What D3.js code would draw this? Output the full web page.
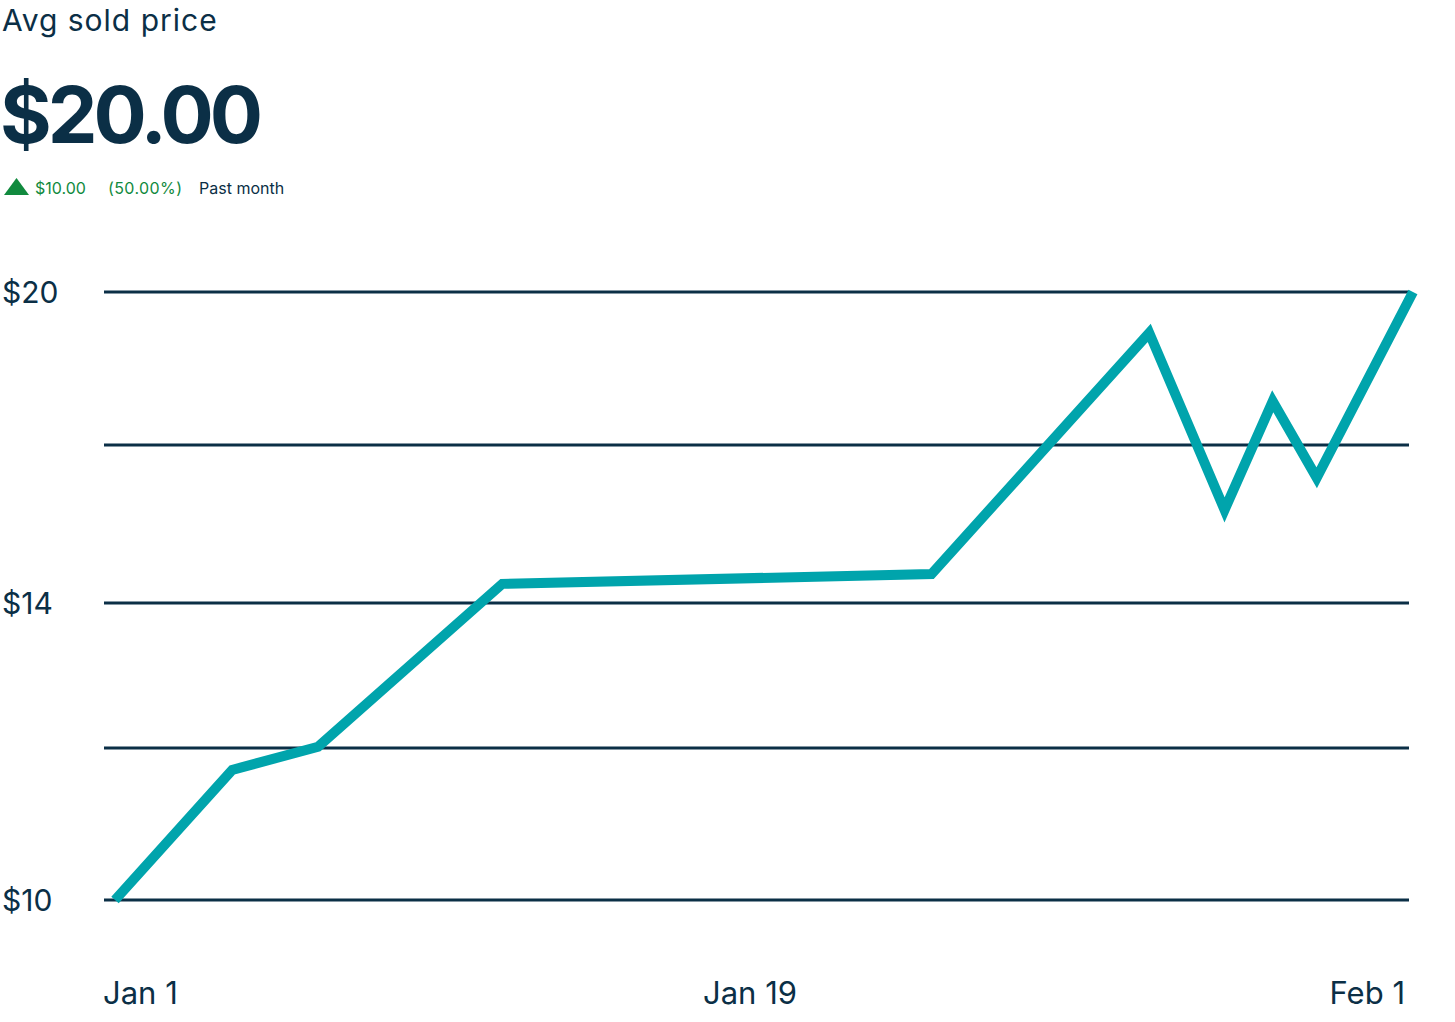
<!DOCTYPE html>
<html>
<head>
<meta charset="utf-8">
<script src="https://cdn.jsdelivr.net/npm/d3@7"></script>
<style>
  html, body { margin: 0; padding: 0; background: #fff; }
  svg { display: block; font-family: Inter, "Open Sans", sans-serif; }
</style>
</head>
<body>
<svg id="chart" width="1455" height="1022"></svg>
<script>
// ---- data ----
const title = "Avg sold price";
const headline = "$20.00";
const changeAmount = "$10.00";
const changePct = "(50.00%)";
const period = "Past month";

const dayOffsets = [0, 2.8, 4.85, 9.25, 19.5, 24.7, 26.5, 27.65, 28.7, 31];
const prices     = [10, 11.75, 12.06, 14.36, 14.55, 19.21, 15.79, 17.89, 16.41, 20];

const gridValues = [10, 12.05, 14, 17.05, 20];
const yTickValues = [10, 14, 20];
const yTickLabels = ["$10", "$14", "$20"];
const xTickLabels = ["Jan 1", "Jan 19", "Feb 1"];

// ---- styles ----
const navy = "#0b2f46";
const teal = "#00a4ac";
const green = "#118a3e";

const svg = d3.select("#chart");

// header
svg.append("text").attr("x", 2).attr("y", 31)
  .attr("font-size", 30).attr("fill", navy).attr("letter-spacing", 1).text(title);
svg.append("text").attr("x", 0).attr("y", 143)
  .attr("font-size", 79).attr("font-weight", 700).attr("fill", navy)
  .attr("letter-spacing", -4).text(headline);

svg.append("path").attr("d", "M4,195 L16.5,178 L29,195 Z").attr("fill", green);
svg.append("text").attr("x", 35).attr("y", 194).attr("font-size", 16).attr("fill", green).text(changeAmount);
svg.append("text").attr("x", 108).attr("y", 194).attr("font-size", 16).attr("fill", green).attr("letter-spacing", 0.4).text(changePct);
svg.append("text").attr("x", 199).attr("y", 194).attr("font-size", 16).attr("fill", navy).text(period);

// plot geometry
const gridLeft = 104, gridRight = 1409;
const lineLeft = 115, lineRight = 1413;
const plotTop = 292, plotBottom = 900;

const y = d3.scaleLinear().domain([10, 14, 20]).range([plotBottom, 602.5, plotTop]);
const x = d3.scaleLinear().domain([0, 31]).range([lineLeft, lineRight]);

// gridlines
svg.append("g").selectAll("line").data(gridValues).join("line")
  .attr("x1", gridLeft).attr("x2", gridRight)
  .attr("y1", d => Math.round(y(d))).attr("y2", d => Math.round(y(d)))
  .attr("stroke", navy).attr("stroke-width", 3);

// y labels
svg.append("g").selectAll("text").data(yTickValues).join("text")
  .attr("x", 2).attr("y", d => y(d) + 11)
  .attr("font-size", 30).attr("fill", navy).attr("letter-spacing", 0)
  .text((d, i) => yTickLabels[i]);

// x labels
const xp = d3.scalePoint().domain(xTickLabels).range([gridLeft - 1, gridRight - 4]);
svg.append("g").selectAll("text").data(xTickLabels).join("text")
  .attr("x", (d, i) => xp(d) - (i === 1 ? 4 : 0)).attr("y", 1004)
  .attr("text-anchor", (d, i) => i === 0 ? "start" : (i === xTickLabels.length - 1 ? "end" : "middle"))
  .attr("font-size", 31).attr("fill", navy).attr("letter-spacing", 0)
  .text(d => d);

// line
const pts = dayOffsets.map((d, i) => [d, prices[i]]);
svg.append("path").datum(pts)
  .attr("d", d3.line().x(d => x(d[0])).y(d => y(d[1])))
  .attr("fill", "none").attr("stroke", teal).attr("stroke-width", 10)
  .attr("stroke-linejoin", "miter").attr("stroke-linecap", "butt");
</script>
</body>
</html>
